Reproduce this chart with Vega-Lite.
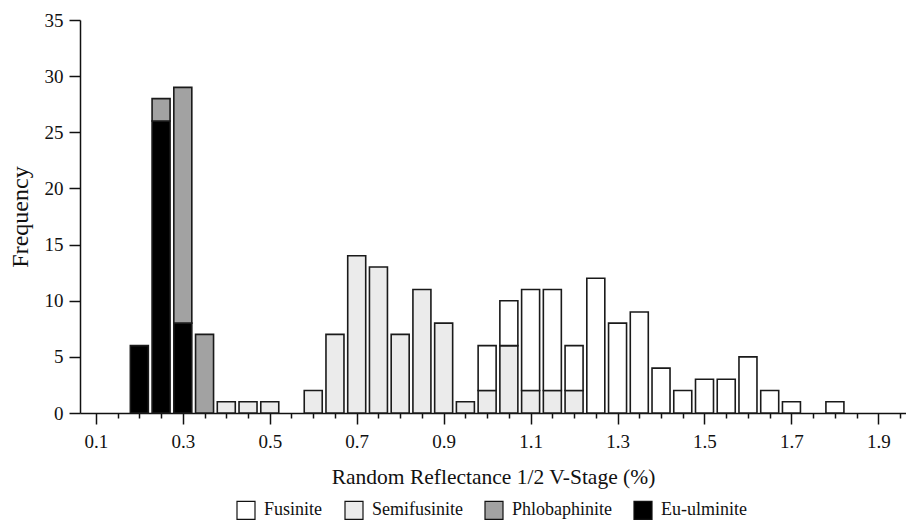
{
  "$schema": "https://vega.github.io/schema/vega-lite/v6.json",
  "width": 826,
  "height": 393,
  "autosize": {"type": "none"},
  "padding": {"left": 80, "top": 20, "right": 0, "bottom": 113},
  "background": "white",
  "config": {
    "view": {"stroke": null},
    "font": "Liberation Serif",
    "axis": {"grid": false, "domainColor": "#111", "tickColor": "#111", "labelColor": "#111", "titleColor": "#111", "labelFont": "Liberation Serif", "labelFontSize": 18, "titleFont": "Liberation Serif", "titleFontWeight": "normal", "domainWidth": 1.5, "tickWidth": 1.5},
    "legend": {"labelFont": "Liberation Serif"}
  },
  "data": {
    "values": [
      {"reflectance": 0.2, "type": "Eu-ulminite", "count": 6},
      {"reflectance": 0.25, "type": "Eu-ulminite", "count": 26},
      {"reflectance": 0.25, "type": "Phlobaphinite", "count": 2},
      {"reflectance": 0.3, "type": "Eu-ulminite", "count": 8},
      {"reflectance": 0.3, "type": "Phlobaphinite", "count": 21},
      {"reflectance": 0.35, "type": "Phlobaphinite", "count": 7},
      {"reflectance": 0.4, "type": "Semifusinite", "count": 1},
      {"reflectance": 0.45, "type": "Semifusinite", "count": 1},
      {"reflectance": 0.5, "type": "Semifusinite", "count": 1},
      {"reflectance": 0.6, "type": "Semifusinite", "count": 2},
      {"reflectance": 0.65, "type": "Semifusinite", "count": 7},
      {"reflectance": 0.7, "type": "Semifusinite", "count": 14},
      {"reflectance": 0.75, "type": "Semifusinite", "count": 13},
      {"reflectance": 0.8, "type": "Semifusinite", "count": 7},
      {"reflectance": 0.85, "type": "Semifusinite", "count": 11},
      {"reflectance": 0.9, "type": "Semifusinite", "count": 8},
      {"reflectance": 0.95, "type": "Semifusinite", "count": 1},
      {"reflectance": 1.0, "type": "Semifusinite", "count": 2},
      {"reflectance": 1.0, "type": "Fusinite", "count": 4},
      {"reflectance": 1.05, "type": "Semifusinite", "count": 6},
      {"reflectance": 1.05, "type": "Fusinite", "count": 4},
      {"reflectance": 1.1, "type": "Semifusinite", "count": 2},
      {"reflectance": 1.1, "type": "Fusinite", "count": 9},
      {"reflectance": 1.15, "type": "Semifusinite", "count": 2},
      {"reflectance": 1.15, "type": "Fusinite", "count": 9},
      {"reflectance": 1.2, "type": "Semifusinite", "count": 2},
      {"reflectance": 1.2, "type": "Fusinite", "count": 4},
      {"reflectance": 1.25, "type": "Fusinite", "count": 12},
      {"reflectance": 1.3, "type": "Fusinite", "count": 8},
      {"reflectance": 1.35, "type": "Fusinite", "count": 9},
      {"reflectance": 1.4, "type": "Fusinite", "count": 4},
      {"reflectance": 1.45, "type": "Fusinite", "count": 2},
      {"reflectance": 1.5, "type": "Fusinite", "count": 3},
      {"reflectance": 1.55, "type": "Fusinite", "count": 3},
      {"reflectance": 1.6, "type": "Fusinite", "count": 5},
      {"reflectance": 1.65, "type": "Fusinite", "count": 2},
      {"reflectance": 1.7, "type": "Fusinite", "count": 1},
      {"reflectance": 1.8, "type": "Fusinite", "count": 1}
    ]
  },
  "transform": [
    {"calculate": "indexof(['Eu-ulminite','Phlobaphinite','Semifusinite','Fusinite'], datum.type)", "as": "stackOrder"}
  ],
  "resolve": {"axis": {"x": "independent"}},
  "layer": [
    {
      "mark": {"type": "point", "opacity": 0},
      "encoding": {
        "x": {
          "field": "reflectance",
          "type": "quantitative",
          "scale": {"domain": [0.075, 1.952], "nice": false, "zero": false},
          "axis": {
            "orient": "bottom",
            "title": null,
            "values": [0.15, 0.2, 0.25, 0.35, 0.4, 0.45, 0.55, 0.6, 0.65, 0.75, 0.8, 0.85, 0.95, 1.0, 1.05, 1.15, 1.2, 1.25, 1.35, 1.4, 1.45, 1.55, 1.6, 1.65, 1.75, 1.8, 1.85, 1.95],
            "labels": false,
            "domain": false,
            "tickSize": 5
          }
        }
      }
    },
    {
      "mark": {"type": "bar", "size": 18, "stroke": "#1a1a1a", "strokeWidth": 1.6},
      "encoding": {
        "x": {
          "field": "reflectance",
          "type": "quantitative",
          "scale": {"domain": [0.075, 1.952], "nice": false, "zero": false},
          "axis": {
            "orient": "bottom",
            "title": "Random Reflectance 1/2 V-Stage (%)",
            "titleFont": "Liberation Serif",
            "titleFontSize": 21.5,
            "titlePadding": 15,
            "values": [0.1, 0.3, 0.5, 0.7, 0.9, 1.1, 1.3, 1.5, 1.7, 1.9],
            "format": ".1f",
            "labelFont": "Liberation Serif",
            "labelFontSize": 19,
            "tickSize": 11,
            "labelPadding": 8
          }
        },
        "y": {
          "field": "count",
          "type": "quantitative",
          "stack": "zero",
          "scale": {"domain": [0, 35], "nice": false},
          "axis": {
            "title": "Frequency",
            "titleFont": "Liberation Serif",
            "titleFontSize": 24,
            "titlePadding": 12,
            "values": [0, 5, 10, 15, 20, 25, 30, 35],
            "labelFont": "Liberation Serif",
            "labelFontSize": 19,
            "tickSize": 11,
            "labelPadding": 6
          }
        },
        "order": {"field": "stackOrder", "type": "quantitative", "sort": "ascending"},
        "color": {
          "field": "type",
          "type": "nominal",
          "scale": {"domain": ["Fusinite", "Semifusinite", "Phlobaphinite", "Eu-ulminite"], "range": ["#ffffff", "#ebebeb", "#a2a2a2", "#000000"]},
          "legend": {
            "title": null,
            "orient": "none",
            "direction": "horizontal",
            "legendX": 156,
            "legendY": 480,
            "symbolType": "square",
            "symbolSize": 324,
            "symbolStrokeColor": "#111",
            "symbolStrokeWidth": 1.2,
            "symbolOpacity": 1,
            "labelFont": "Liberation Serif",
            "labelFontSize": 18,
            "labelColor": "#111",
            "labelOffset": 8,
            "columnPadding": 19
          }
        }
      }
    }
  ]
}
